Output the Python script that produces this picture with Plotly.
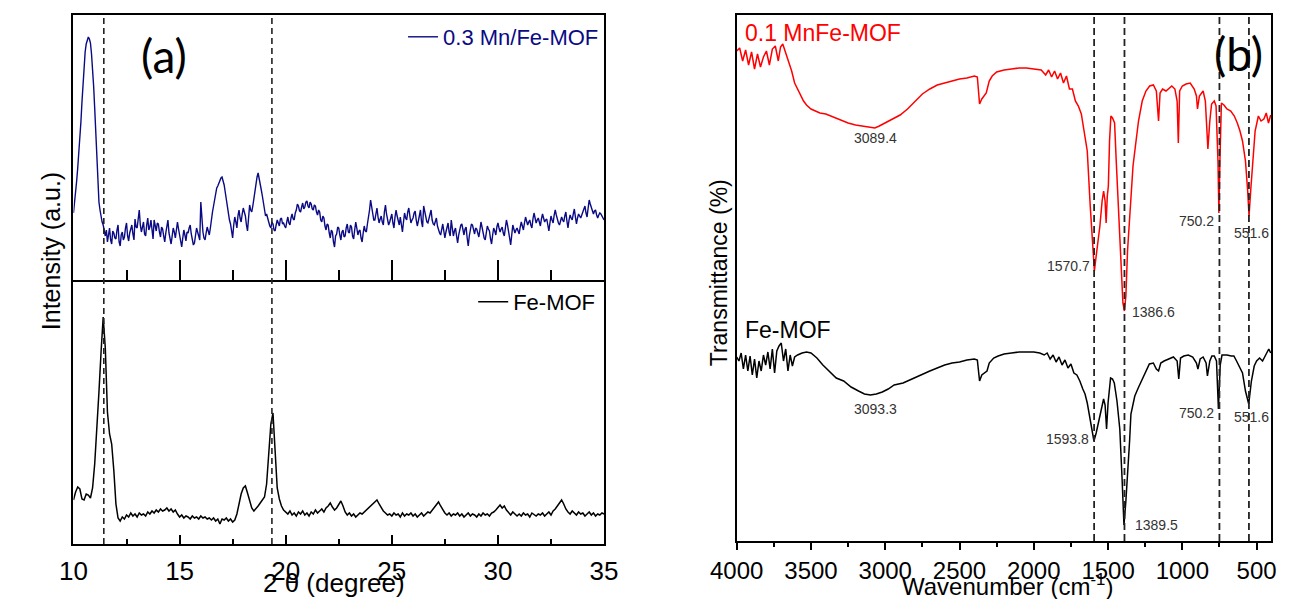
import numpy as np
import plotly.graph_objects as go

# ---------------- Panel (a): XRD ----------------
# 0.3 Mn/Fe-MOF, sampled every 0.05 degree from 10.00 to 35.00
mnfe_xrd = [
    67, 76, 88, 99, 112, 126, 140, 158, 178, 197,
    215, 228, 236, 241, 243, 241, 237, 226, 212, 194,
    172, 146, 118, 95, 78, 70, 62, 58, 55, 49,
    44, 50, 38, 45, 52, 40, 36, 49, 47, 42,
    41, 50, 55, 38, 34, 45, 48, 40, 43, 52,
    57, 44, 39, 47, 50, 55, 46, 40, 61, 53,
    52, 60, 70, 55, 48, 53, 58, 46, 44, 55,
    62, 50, 53, 60, 47, 41, 60, 54, 49, 57,
    56, 48, 43, 53, 51, 44, 38, 47, 55, 60,
    47, 42, 36, 44, 52, 48, 42, 50, 58, 51,
    45, 38, 33, 42, 50, 45, 39, 48, 47, 52,
    55, 46, 41, 35, 37, 46, 52, 48, 44, 40,
    78, 60, 48, 42, 40, 47, 53, 49, 45, 52,
    62, 68, 74, 80, 88, 92, 94, 97, 99, 102,
    103, 100, 95, 88, 80, 72, 64, 60, 56, 48,
    42, 55, 63, 58, 52, 64, 70, 62, 58, 66,
    72, 68, 64, 55, 49, 62, 75, 70, 68, 74,
    82, 90, 96, 103, 107, 102, 98, 90, 84, 76,
    70, 64, 66, 60, 58, 54, 52, 58, 56, 50,
    49, 55, 60, 57, 54, 61, 62, 56, 57, 54,
    52, 58, 63, 57, 55, 62, 66, 61, 60, 67,
    70, 76, 74, 69, 68, 73, 77, 71, 73, 78,
    79, 74, 72, 78, 76, 71, 70, 75, 74, 68,
    65, 70, 68, 60, 58, 64, 62, 54, 50, 56,
    55, 47, 42, 50, 48, 38, 33, 44, 46, 53,
    52, 45, 40, 48, 50, 43, 44, 52, 56, 48,
    47, 55, 53, 44, 41, 50, 58, 52, 45, 49,
    50, 42, 38, 47, 54, 49, 48, 56, 62, 70,
    80, 72, 66, 60, 60, 68, 72, 63, 57, 61,
    64, 58, 55, 68, 75, 66, 61, 55, 58, 64,
    66, 57, 52, 63, 70, 64, 59, 55, 63, 56,
    48, 58, 67, 62, 60, 68, 72, 64, 57, 60,
    62, 67, 69, 60, 54, 59, 65, 70, 58, 53,
    74, 68, 63, 58, 57, 62, 66, 70, 60, 56,
    55, 60, 62, 54, 50, 47, 45, 52, 56, 49,
    42, 48, 53, 57, 48, 44, 60, 54, 44, 49,
    52, 44, 37, 45, 50, 55, 56, 49, 45, 51,
    53, 42, 34, 44, 49, 56, 55, 50, 46, 52,
    51, 47, 43, 50, 58, 53, 47, 42, 40, 48,
    54, 51, 49, 41, 36, 45, 52, 49, 45, 53,
    57, 52, 48, 51, 53, 47, 44, 52, 60, 55,
    50, 42, 35, 46, 55, 51, 47, 50, 52, 49,
    46, 53, 58, 54, 50, 57, 63, 59, 55, 58,
    60, 55, 52, 61, 67, 62, 57, 60, 62, 58,
    54, 61, 66, 62, 58, 60, 61, 55, 49, 57,
    64, 60, 57, 65, 70, 65, 60, 57, 55, 60,
    63, 60, 58, 64, 68, 59, 52, 60, 65, 62,
    60, 66, 71, 63, 56, 62, 66, 64, 62, 65,
    68, 72, 74, 67, 63, 72, 80, 76, 72, 68,
    66, 69, 70, 65, 62, 65, 67, 66, 64, 62,
    60,
]

# Fe-MOF, sampled every 0.1 degree from 10.0 to 35.0
fe_xrd = [
    44, 52, 57, 55, 45, 44, 50, 49, 46, 56,
    80, 112, 152, 192, 227, 196, 132, 110, 100, 74,
    40, 26, 23, 27, 25, 29, 27, 31, 28, 30,
    27, 31, 29, 30, 28, 32, 30, 33, 31, 34,
    32, 35, 33, 34, 36, 33, 35, 32, 34, 30,
    27, 29, 26, 28, 27, 25, 28, 26, 27, 25,
    28, 26, 27, 25, 26, 24, 26, 23, 25, 20,
    25, 24, 26, 23, 25, 22, 24, 30, 40, 50,
    56, 58, 51, 42, 36, 33, 35, 38, 41, 44,
    47, 60, 88, 120, 131, 90, 56, 45, 38, 34,
    32, 30, 33, 29, 31, 28, 32, 30, 33, 29,
    31, 28, 32, 30, 34, 31, 33, 35, 32, 36,
    38, 41, 37, 34, 36, 40, 43, 38, 32, 29,
    31, 28, 30, 27, 29, 31, 30, 32, 34, 36,
    37, 39, 41, 44, 40, 36, 33, 31, 29, 30,
    28, 31, 29, 30, 27, 31, 28, 30, 29, 31,
    28, 30, 27, 29, 31, 28, 30, 32, 31, 34,
    36, 40, 42, 38, 34, 31, 29, 31, 28, 30,
    29, 31, 28, 30, 27, 29, 31, 28, 30, 29,
    27, 30, 28, 31, 29, 30, 28, 31, 32, 34,
    37, 39, 36, 38, 34, 31, 29, 32, 30, 28,
    30, 28, 31, 29, 30, 27, 31, 29, 28, 30,
    29, 31, 28, 30, 32, 29, 33, 35, 38, 42,
    44, 40, 35, 32, 30, 33, 31, 29, 32, 30,
    31, 28, 30, 32, 29, 31, 28, 30, 29, 31,
    30,
]

two_theta_mnfe = np.round(10.0 + 0.05 * np.arange(len(mnfe_xrd)), 2)
two_theta_fe = np.round(10.0 + 0.1 * np.arange(len(fe_xrd)), 1)

xrd_ref_lines = [11.43, 19.35]
xrd_ticks = [10, 15, 20, 25, 30, 35]

# ---------------- Panel (b): FTIR ----------------
wn_mnfe = [4000, 3980, 3960, 3940, 3920, 3900, 3880, 3860, 3840, 3820, 3800, 3780, 3760, 3740,
           3720, 3705, 3690, 3670, 3650, 3630, 3610, 3590, 3570, 3550, 3530, 3500, 3470, 3440,
           3400, 3350, 3300, 3250, 3200, 3150, 3100, 3070, 3040, 3000, 2950, 2900, 2850, 2800,
           2750, 2700, 2650, 2600, 2550, 2500, 2450, 2400, 2380, 2365, 2350, 2335, 2320, 2300,
           2280, 2250, 2200, 2150, 2100, 2050, 2000, 1950, 1920, 1900, 1880, 1860, 1840, 1820,
           1800, 1780, 1760, 1740, 1720, 1700, 1680, 1660, 1640, 1620, 1605, 1592, 1580, 1565,
           1555, 1540, 1530, 1520, 1513, 1505, 1498, 1490, 1481, 1470, 1456, 1445, 1431, 1415,
           1400, 1390, 1380, 1369, 1350, 1332, 1310, 1295, 1270, 1245, 1220, 1195, 1175, 1160,
           1150, 1133, 1110, 1090, 1071, 1050, 1035, 1027, 1018, 1000, 975, 947, 920, 905, 898,
           885, 860, 845, 828, 815, 803, 785, 773, 760, 754, 747, 737, 720, 700, 674, 650, 630,
           612, 595, 575, 560, 551, 540, 525, 510, 488, 470, 451, 435, 420, 405]
t_mnfe = [490, 493, 480, 491, 476, 489, 472, 487, 474, 484, 490, 476, 492, 495,
          480, 494, 497, 488, 478, 470, 458, 452, 446, 440, 436, 432, 430, 428,
          427, 424, 421, 418, 416, 415, 414, 413, 415, 418, 422, 426, 432, 440,
          447, 452, 456, 458, 460, 462, 463, 465, 464, 437, 442, 445, 448, 460,
          465, 469, 471, 472, 473, 473, 472, 471, 466, 471, 464, 470, 462, 468,
          458, 465, 452, 452, 440, 435, 427, 410, 390, 335, 300, 270, 285, 300,
          315, 340, 350, 340, 318, 345, 355, 400, 425, 423, 418, 380, 340, 280,
          238, 230, 245, 290, 340, 375, 402, 420, 440, 450, 455, 456, 450, 420,
          448, 452, 450, 453, 455, 452, 440, 398, 450, 455, 457, 458, 452, 445, 432,
          445, 450, 440, 392, 420, 437, 440, 435, 380, 328, 380, 438, 436, 432, 430, 425, 418,
          410, 400, 380, 350, 325, 350, 380, 410, 425, 420, 422, 428, 418, 426]

wn_fe = [4000, 3985, 3970, 3955, 3940, 3925, 3910, 3895, 3880, 3865, 3850, 3835, 3820, 3805,
         3790, 3775, 3760, 3745, 3730, 3715, 3700, 3685, 3670, 3655, 3640, 3625, 3610, 3590,
         3560, 3530, 3500, 3460, 3420, 3380, 3330, 3280, 3230, 3180, 3140, 3100, 3060, 3020,
         2980, 2940, 2880, 2820, 2750, 2700, 2650, 2600, 2550, 2500, 2450, 2400, 2380, 2365,
         2350, 2330, 2315, 2300, 2270, 2240, 2200, 2150, 2100, 2050, 2000, 1960, 1930, 1910,
         1890, 1870, 1850, 1830, 1810, 1790, 1770, 1750, 1730, 1710, 1690, 1670, 1655, 1640,
         1625, 1610, 1595, 1580, 1565, 1555, 1540, 1530, 1520, 1510, 1500, 1490, 1483, 1470,
         1458, 1440, 1421, 1405, 1393, 1380, 1371, 1355, 1346, 1320, 1297, 1260, 1222, 1195,
         1175, 1160, 1145, 1123, 1090, 1060, 1035, 1024, 1012, 990, 960, 930, 905, 895, 880,
         860, 840, 831, 815, 801, 785, 770, 757, 745, 733, 700, 670, 653, 635, 616, 595, 575,
         553, 535, 516, 500, 480, 460, 440, 418, 405]
t_fe = [184, 180, 188, 172, 186, 170, 185, 166, 182, 163, 180, 170, 186, 176,
        189, 172, 192, 168, 190, 195, 198, 180, 192, 170, 186, 175, 184, 186,
        188, 189, 188, 183, 176, 170, 163, 160, 154, 150, 147, 146, 147, 149,
        152, 156, 158, 162, 167, 170, 173, 176, 178, 179, 181, 182, 181, 160,
        166, 168, 170, 178, 183, 185, 187, 188, 189, 189, 189, 188, 186, 188,
        182, 186, 179, 184, 176, 181, 173, 177, 168, 166, 160, 152, 147, 138,
        125, 110, 100, 108, 118, 124, 135, 142, 136, 112, 138, 155, 163, 162,
        158, 140, 112, 60, 16, 40, 60, 100, 127, 145, 153, 165, 177, 178,
        172, 170, 178, 180, 182, 184, 180, 162, 183, 185, 186, 184, 178, 172, 182,
        184, 178, 165, 180, 185, 185, 180, 132, 176, 186, 186, 185, 185, 180, 175, 168, 150,
        137, 160, 175, 180, 183, 180, 186, 192, 188]

ir_ref_lines = [1593.8, 1389.5, 750.2, 551.6]
ir_ticks = [4000, 3500, 3000, 2500, 2000, 1500, 1000, 500]

# peak labels: (text, wavenumber position, transmittance position, anchor)
ir_labels = [
    ("3089.4", 3067, 403, "center"),
    ("1570.7", 1606, 275, "right"),
    ("750.2", 771, 320, "right"),
    ("551.6", 406, 308, "right"),
    ("1386.6", 1352, 229, "left"),
    ("3093.3", 3067, 132, "center"),
    ("1593.8", 1612, 102, "right"),
    ("750.2", 771, 128, "right"),
    ("551.6", 406, 124, "right"),
    ("1389.5", 1332, 16, "left"),
]

W, H = 1290, 599
FONT = "Liberation Sans, Arial, sans-serif"


def px(x):
    return x / W


def py(y):
    return 1 - y / H


fig = go.Figure()

fig.add_trace(go.Scatter(x=two_theta_mnfe, y=mnfe_xrd, mode="lines", name="0.3 Mn/Fe-MOF",
                         line=dict(color="#0a0a85", width=1.4), xaxis="x", yaxis="y",
                         legend="legend"))
fig.add_trace(go.Scatter(x=two_theta_fe, y=fe_xrd, mode="lines", name="Fe-MOF",
                         line=dict(color="black", width=1.5), xaxis="x2", yaxis="y2",
                         legend="legend2"))
fig.add_trace(go.Scatter(x=wn_mnfe, y=t_mnfe, mode="lines", name="0.1 MnFe-MOF",
                         line=dict(color="#ff0000", width=1.5), xaxis="x3", yaxis="y3",
                         showlegend=False))
fig.add_trace(go.Scatter(x=wn_fe, y=t_fe, mode="lines", name="Fe-MOF (IR)",
                         line=dict(color="black", width=1.5), xaxis="x3", yaxis="y3",
                         showlegend=False))

frame = dict(showline=True, linewidth=2, linecolor="black",
             showgrid=False, zeroline=False)

xa_dom = [px(48), px(596)]
xb_dom = [px(733), px(1285)]

fig.update_layout(
    width=W, height=H, autosize=False,
    margin=dict(l=0, r=0, t=0, b=0),
    paper_bgcolor="white", plot_bgcolor="white",
    font=dict(family=FONT, color="black"),
    xaxis=dict(domain=xa_dom, anchor="y", range=[10, 35], tickvals=xrd_ticks,
               ticks="inside", ticklen=20, tickwidth=2, tickcolor="black",
               showticklabels=False, mirror=True,
               minor=dict(ticks="inside", ticklen=10, tickwidth=2, dtick=2.5, tick0=10,
                          tickcolor="black"),
               **frame),
    yaxis=dict(domain=[py(280), py(15)], anchor="x", range=[0, 265], mirror=True,
               showticklabels=False, ticks="", **frame),
    xaxis2=dict(domain=xa_dom, anchor="y2", range=[10, 35], tickvals=xrd_ticks,
                ticks="inside", ticklen=9, tickwidth=2, tickcolor="black",
                tickfont=dict(size=26, family=FONT), ticklabelstandoff=3, mirror=False,
                minor=dict(ticks="inside", ticklen=5, tickwidth=2, dtick=2.5, tick0=10,
                           tickcolor="black"),
                **frame),
    yaxis2=dict(domain=[py(544), py(280)], anchor="x2", range=[0, 264], mirror=True,
                showticklabels=False, ticks="", **frame),
    xaxis3=dict(domain=xb_dom, anchor="y3", range=[4000, 402], tickvals=ir_ticks,
                ticks="outside", ticklen=7, tickwidth=2, tickcolor="black",
                tickfont=dict(size=24, family=FONT), mirror=True,
                minor=dict(ticks="outside", ticklen=4, tickwidth=2, dtick=250, tick0=0,
                           tickcolor="black"),
                **frame),
    yaxis3=dict(domain=[py(541), py(15)], anchor="x3", range=[0, 526], mirror=True,
                showticklabels=False, ticks="", **frame),
    legend=dict(x=px(596), xanchor="right", y=py(16), yanchor="top",
                bgcolor="rgba(0,0,0,0)", borderwidth=0,
                font=dict(size=22, color="#0a0a85", family=FONT)),
    legend2=dict(x=px(592), xanchor="right", y=py(281), yanchor="top",
                 bgcolor="rgba(0,0,0,0)", borderwidth=0,
                 font=dict(size=22, color="black", family=FONT)),
)

shapes = []
for xv in xrd_ref_lines:
    shapes.append(dict(type="line", xref="x", yref="paper", x0=xv, x1=xv,
                       y0=py(544), y1=py(15),
                       line=dict(color="#222222", width=1.6, dash="6px,4px")))
for xv in ir_ref_lines:
    shapes.append(dict(type="line", xref="x3", yref="paper", x0=xv, x1=xv,
                       y0=py(541), y1=py(15),
                       line=dict(color="#222222", width=1.8, dash="7px,4px")))
fig.update_layout(shapes=shapes)

ann = []
# axis titles
ann.append(dict(text="Intensity (a.u.)", xref="paper", yref="paper", x=px(25), y=py(251),
                textangle=-90, showarrow=False, font=dict(size=25, family=FONT),
                xanchor="center", yanchor="middle"))
ann.append(dict(text="2 θ (degree)", xref="paper", yref="paper", x=px(317), y=py(583),
                showarrow=False, font=dict(size=26, family=FONT),
                xanchor="center", yanchor="middle"))
ann.append(dict(text="Transmittance (%)", xref="paper", yref="paper", x=px(715), y=py(273),
                textangle=-90, showarrow=False, font=dict(size=23, family=FONT),
                xanchor="center", yanchor="middle"))
ann.append(dict(text="Wavenumber (cm<sup>-1</sup>)", xref="paper", yref="paper",
                x=px(1013), y=py(585), showarrow=False, font=dict(size=24, family=FONT),
                xanchor="center", yanchor="middle"))
# panel letters
ann.append(dict(text="(a)", xref="paper", yref="paper", x=px(141), y=py(56),
                showarrow=False, font=dict(size=46, family="Lato, sans-serif"),
                xanchor="center", yanchor="middle"))
ann.append(dict(text="(b)", xref="paper", yref="paper", x=px(1251), y=py(54),
                showarrow=False, font=dict(size=46, family="Lato, sans-serif"),
                xanchor="center", yanchor="middle"))
# series labels in panel b
ann.append(dict(text="0.1 MnFe-MOF", xref="paper", yref="paper", x=px(740), y=py(33),
                showarrow=False, font=dict(size=23, color="#ff0000", family=FONT),
                xanchor="left", yanchor="middle"))
ann.append(dict(text="Fe-MOF", xref="paper", yref="paper", x=px(740), y=py(330),
                showarrow=False, font=dict(size=23, color="black", family=FONT),
                xanchor="left", yanchor="middle"))
for txt, xv, yv, anc in ir_labels:
    ann.append(dict(text=txt, xref="x3", yref="y3", x=xv, y=yv, showarrow=False,
                    font=dict(size=14, color="#333333", family=FONT),
                    xanchor=anc, yanchor="middle"))
fig.update_layout(annotations=ann)

fig.write_html("out.html", config={"displayModeBar": False},
               post_script="document.body.style.margin='0px';")
